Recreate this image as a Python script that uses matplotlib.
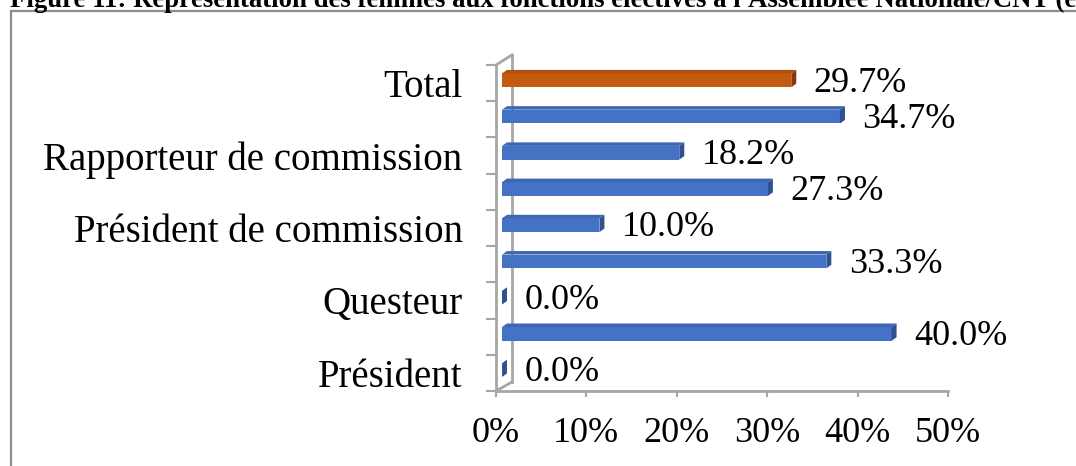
import matplotlib
matplotlib.use("Agg")
import matplotlib.pyplot as plt
from matplotlib.patches import Rectangle, Polygon
from matplotlib.lines import Line2D

plt.rcParams["font.family"] = ["Liberation Serif", "DejaVu Serif"]

# --------------------------------------------------
# Data (bottom to top)
# --------------------------------------------------
categories = ["Président", "", "Questeur", "", "Président de commission", "",
              "Rapporteur de commission", "", "Total"]
values = [0.0, 40.0, 0.0, 33.3, 10.0, 27.3, 18.2, 34.7, 29.7]
value_labels = [f"{v:.1f}%" for v in values]
x_ticks = [0, 10, 20, 30, 40, 50]
x_tick_labels = ["0%", "10%", "20%", "30%", "40%", "50%"]
title = ("Figure 11: Représentation des femmes aux fonctions électives "
         "à l'Assemblée Nationale/CNT (en %)")

# colours: front, top, side
blue = ("#4472C4", "#3E67B3", "#2F528F")
orange = ("#C55A11", "#B0500F", "#843C0C")
grey = "#A6A6A6"

W, H = 1076, 466
fig = plt.figure(figsize=(W / 100, H / 100), dpi=100)

# outer frame of the chart (only top and left edges visible)
fig.add_artist(Rectangle((11 / W, -0.5), 2, 1 - 11 / H + 0.5,
                         transform=fig.transFigure, fill=False,
                         ec="#8C8C8C", lw=1.6))

fig.text(10 / W, 1 - 7 / H, title, fontsize=19.3, fontweight="bold",
         va="baseline", ha="left")

rect = [496 / W, (H - 391) / H, (948 - 496) / W, (391 - 65) / H]

# --------------------------------------------------
# Front axis (ticks, labels, wall)
# --------------------------------------------------
ax = fig.add_axes(rect)
ax.set_xlim(0, 50)
ax.set_ylim(-0.5, len(categories) - 0.5)
ax.set_xticks(x_ticks)
ax.set_xticklabels(x_tick_labels)
ax.set_yticks(range(len(categories)))
ax.set_yticklabels(categories)
ax.set_yticks([i - 0.5 for i in range(len(categories) + 1)], minor=True)
ax.tick_params(axis="y", which="major", length=0, pad=24, labelsize=28)
ax.tick_params(axis="y", which="minor", length=7, width=1.5, color=grey,
               direction="out")
ax.tick_params(axis="x", length=4, width=1.5, color=grey, pad=15,
               labelsize=26)
for side in ["top", "right"]:
    ax.spines[side].set_visible(False)
for side in ["left", "bottom"]:
    ax.spines[side].set_color(grey)
    ax.spines[side].set_linewidth(2)
ax.patch.set_alpha(0)

# side wall depth
wx, wtop, wbot = 1.77, len(categories) - 0.5 + 0.28, -0.25
for xs, ys in [([wx, wx], [wbot, wtop]),
               ([0, wx], [len(categories) - 0.5, wtop]),
               ([0, wx], [-0.5, wbot])]:
    ax.add_line(Line2D(xs, ys, color=grey, lw=2, clip_on=False))

# --------------------------------------------------
# Bars (3D look)
# --------------------------------------------------
ax2 = fig.add_axes(rect)
ax2.set_xlim(-0.62, 45.79)
ax2.set_ylim(-0.5, len(categories) - 0.5)
ax2.axis("off")
ax2.patch.set_alpha(0)

h, shift, dx, dy = 0.38, 0.077, 0.51, 0.097
for i, (v, lab) in enumerate(zip(values, value_labels)):
    front, top, side = orange if categories[i] == "Total" else blue
    c = i + shift
    y0, y1 = c - h / 2, c + h / 2
    ax2.add_patch(Rectangle((0, y0), v, h, fc=front, ec="none"))
    ax2.add_patch(Polygon([(0, y1), (v, y1), (v + dx, y1 + dy), (dx, y1 + dy)],
                          closed=True, fc=top, ec="none"))
    ax2.add_patch(Polygon([(v, y0), (v + dx, y0 + dy), (v + dx, y1 + dy), (v, y1)],
                          closed=True, fc=side, ec="none"))
    ax2.text(v + dx + 1.8, i, lab, va="center", ha="left", fontsize=26)

fig.savefig("out.png", dpi=100)
print("Figure Saved.")
